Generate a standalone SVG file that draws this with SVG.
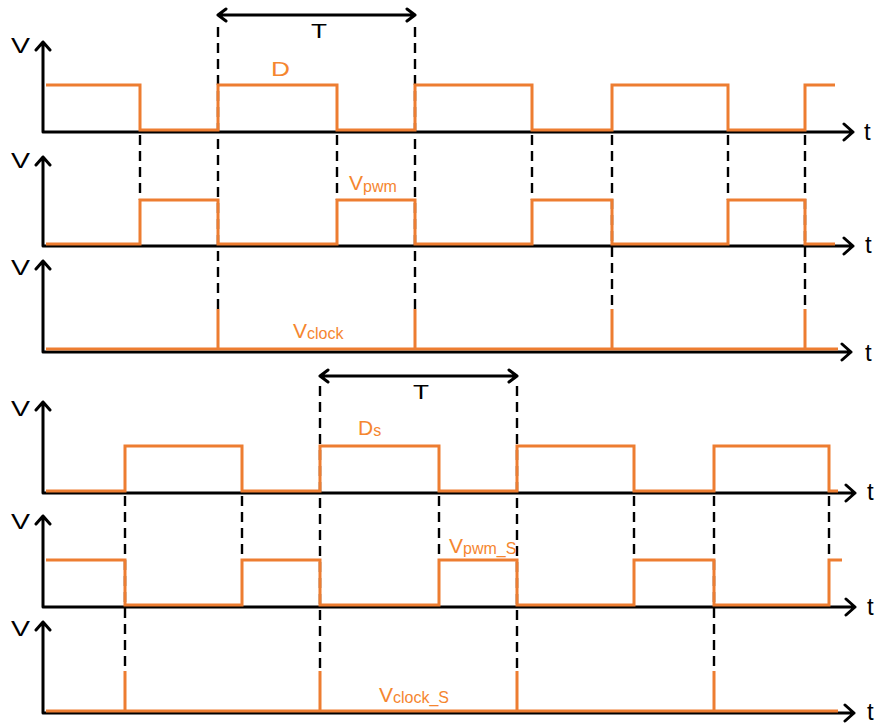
<svg xmlns="http://www.w3.org/2000/svg" width="881" height="724" viewBox="0 0 881 724">
<style>
.ax{fill:none;stroke:#000;stroke-width:3;stroke-linecap:round;stroke-linejoin:round}
.wv{fill:none;stroke:#ED7D31;stroke-width:3;stroke-linejoin:miter}
.ds{fill:none;stroke:#000;stroke-width:2.4;stroke-dasharray:10,6}
.lb{font-family:"Liberation Sans",Arial,sans-serif;fill:#000}
.ol{font-family:"Liberation Sans",Arial,sans-serif;fill:#F5862F}
</style>
<rect width="881" height="724" fill="#fff"/>
<g id="connectors">
<path class="ds" d="M218,27V309M415,27V309M140,135V200M337,135V200M532,135V200M728,135V200M612,135V309M805,135V309"/>
<path class="ds" d="M320,386V671M517,386V671M125,496V671M714,496V671M242,496V560M439,496V560M634,496V560M829,496V560"/>
</g>
<g id="period-top">
<path class="ax" d="M218,15H415M226,9L218,15L226,21M407,9L415,15L407,21"/>
<text class="lb" x="311" y="38" font-size="21" textLength="16" lengthAdjust="spacingAndGlyphs">T</text>
</g>
<g id="period-bottom">
<path class="ax" d="M320,376H517M328,370L320,376L328,382M509,370L517,376L509,382"/>
<text class="lb" x="413" y="399" font-size="21" textLength="16" lengthAdjust="spacingAndGlyphs">T</text>
</g>
<g id="panel-D">
<path class="ax" d="M43,132V42M36,50L43,42L50,50M43,132H853M844,124L853,132L844,140"/>
<text class="lb" x="11" y="53" font-size="22" textLength="19" lengthAdjust="spacingAndGlyphs">V</text>
<text class="lb" x="864" y="140" font-size="24">t</text>
<path class="wv" d="M46,85H140V130H218V85H337V130H415V85H532V130H612V85H728V130H805V85H835"/>
<text class="ol" x="271" y="76" font-size="21" textLength="19" lengthAdjust="spacingAndGlyphs">D</text>
</g>
<g id="panel-Vpwm">
<path class="ax" d="M43,246V157M36,165L43,157L50,165M43,246H853M844,238L853,246L844,254"/>
<text class="lb" x="11" y="168" font-size="22" textLength="19" lengthAdjust="spacingAndGlyphs">V</text>
<text class="lb" x="865" y="253" font-size="24">t</text>
<path class="wv" d="M46,244H140V200H218V244H337V200H415V244H532V200H612V244H728V200H805V244H835"/>
<text class="ol" x="349" y="190" font-size="21">V<tspan font-size="16" dy="2">pwm</tspan></text>
</g>
<g id="panel-Vclock">
<path class="ax" d="M43,352V261M36,269L43,261L50,269M43,352H851M842,344L851,352L842,360"/>
<text class="lb" x="11" y="275" font-size="22" textLength="19" lengthAdjust="spacingAndGlyphs">V</text>
<text class="lb" x="865" y="361" font-size="24">t</text>
<path class="wv" d="M46,349H838M218,309V349M415,309V349M612,309V349M805,309V349"/>
<text class="ol" x="293" y="338" font-size="21">V<tspan font-size="16" dy="1">clock</tspan></text>
</g>
<g id="panel-Ds">
<path class="ax" d="M43,493V402M36,410L43,402L50,410M43,493H855M846,485L855,493L846,501"/>
<text class="lb" x="11" y="416" font-size="22" textLength="19" lengthAdjust="spacingAndGlyphs">V</text>
<text class="lb" x="867" y="500" font-size="24">t</text>
<path class="wv" d="M46,491H125V446H242V491H320V446H439V491H517V446H634V491H714V446H829V491H838"/>
<text class="ol" x="358" y="435" font-size="21">D<tspan font-size="16" dy="1">s</tspan></text>
</g>
<g id="panel-Vpwm_S">
<path class="ax" d="M43,607V516M36,524L43,516L50,524M43,607H855M846,599L855,607L846,615"/>
<text class="lb" x="11" y="529" font-size="22" textLength="19" lengthAdjust="spacingAndGlyphs">V</text>
<text class="lb" x="867" y="615" font-size="24">t</text>
<path class="wv" d="M46,560H125V605H242V560H320V605H439V560H517V605H634V560H714V605H829V560H842"/>
<text class="ol" x="449" y="553" font-size="21">V<tspan font-size="16" dy="1">pwm_S</tspan></text>
</g>
<g id="panel-Vclock_S">
<path class="ax" d="M43,713V622M36,630L43,622L50,630M43,713H854M845,705L854,713L845,721"/>
<text class="lb" x="11" y="636" font-size="22" textLength="19" lengthAdjust="spacingAndGlyphs">V</text>
<text class="lb" x="867" y="720" font-size="24">t</text>
<path class="wv" d="M46,711H838M125,671V711M320,671V711M517,671V711M714,671V711"/>
<text class="ol" x="379" y="702" font-size="21">V<tspan font-size="16" dy="1">clock_S</tspan></text>
</g>
</svg>
